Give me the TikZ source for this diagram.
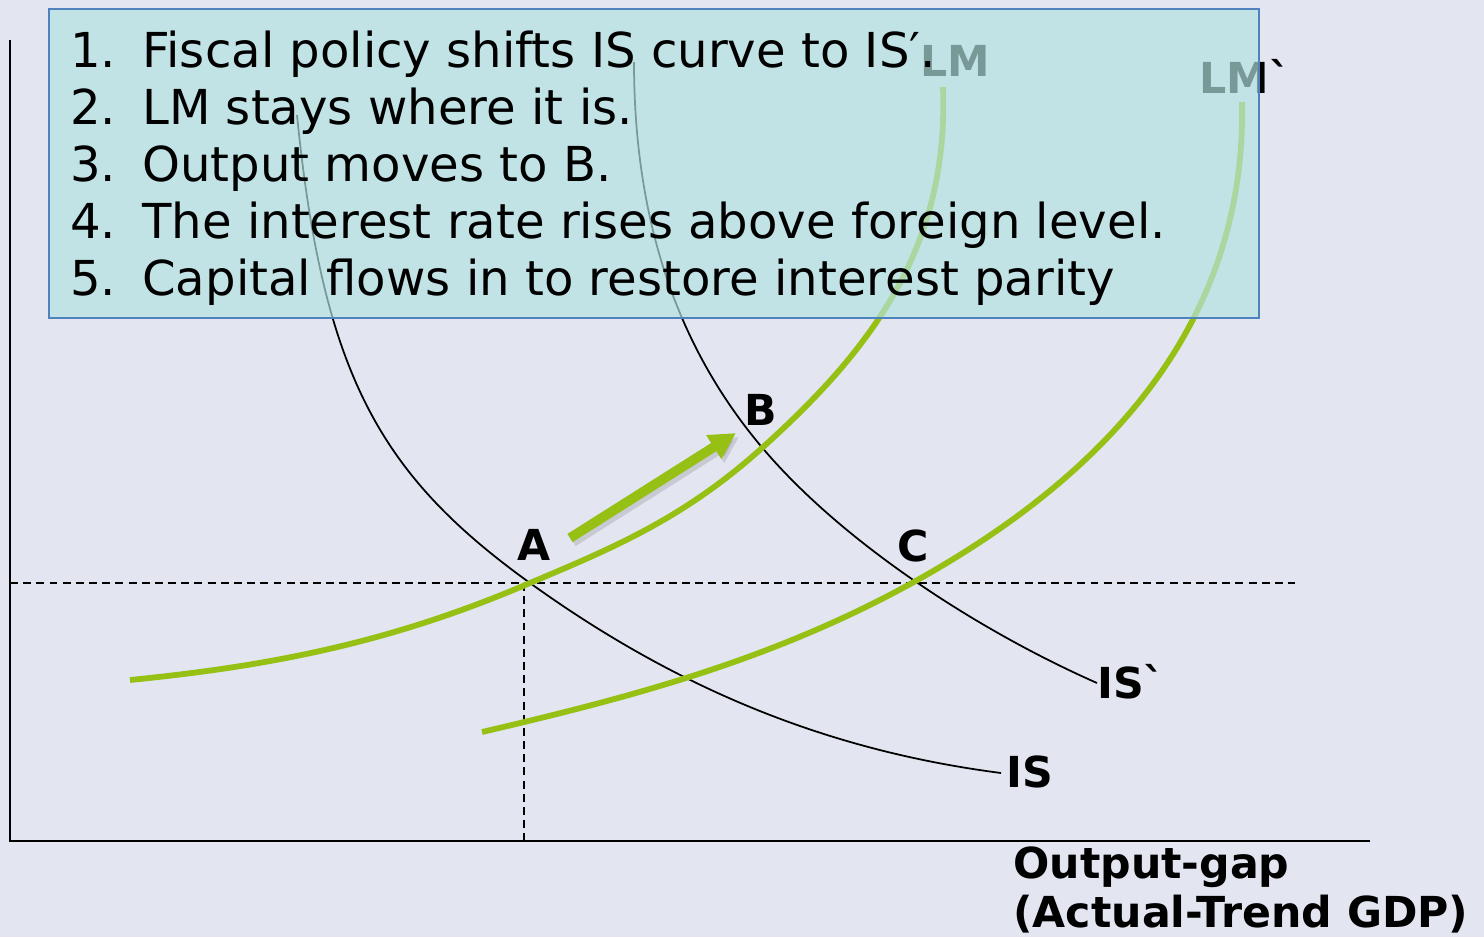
\documentclass[tikz,border=0pt]{standalone}
\usepackage{fontspec}
\setmainfont{DejaVu Sans}
\usetikzlibrary{arrows.meta}

\definecolor{slidebg}{RGB}{227,230,241}
\definecolor{lmgreen}{RGB}{150,192,20}
\definecolor{notefill}{RGB}{179,226,226}
\definecolor{noteline}{RGB}{79,129,189}

\tikzset{
  iscurve/.style={black, line width=1pt},
  lmcurve/.style={lmgreen, line width=3.3pt},
  guideline/.style={black, line width=1.1pt, dash pattern=on 4.5pt off 3pt},
  curvelabel/.style={font=\fontsize{24.3}{29}\selectfont\bfseries, inner sep=0pt},
  notetext/.style={font=\fontsize{27.4}{32}\selectfont, anchor=base west, inner sep=0pt},
  movearrow/.style={line width=5.5pt, -{Triangle[length=15pt, width=15pt]}},
}

\begin{document}
\begin{tikzpicture}[x=0.02cm, y=-0.02cm]
  \useasboundingbox[fill=slidebg] (0,0) rectangle (1484,937);

  % axes and guide lines at A
  \draw[line width=1.2pt] (10,40) -- (10,841) -- (1370,841);
  \draw[guideline] (10,583) -- (1295,583);
  \draw[guideline] (524,583) -- (524,841);

  % IS and IS'
  \draw[iscurve] (297,115) .. controls (323,375) and (380,475) .. (530,583)
                           .. controls (680,691) and (831,751) .. (1001,773);
  \draw[iscurve] (634,62) .. controls (634,242) and (690,361) .. (760,445)
                          .. controls (840,541) and (977,630) .. (1097,683);

  % LM and LM'
  \draw[lmcurve] (130,680) .. controls (270,666) and (390,643) .. (530,583)
                           .. controls (610,549) and (682,520) .. (762,448)
                           .. controls (872,349) and (949,247) .. (943,87);
  \draw[lmcurve] (482,732) .. controls (632,697) and (772,660) .. (912,583)
                           .. controls (1082,489) and (1247,342) .. (1242,102);
  \node[curvelabel] (lmlbl) at (955,61) {LM};
  \node[curvelabel] (lmshiftlbl) at (1245,76) {LM\textasciigrave};

  % move from A towards B
  \coordinate (movetail) at (570,538);
  \coordinate (movetip) at (736,433);
  \draw[movearrow, black, opacity=0.12]
    ([shift={(3,4)}]movetail) -- ([shift={(3,4)}]movetip);
  \draw[movearrow, lmgreen] (movetail) -- (movetip);

  % notes
  \draw[noteline, line width=1.1pt, fill=notefill, fill opacity=0.68]
    (49,9) rectangle (1259,318);
  \foreach \n/\txt [count=\i] in {%
      1/Fiscal policy shifts IS curve to IS′.,
      2/LM stays where it is.,
      3/Output moves to B.,
      4/The interest rate rises above foreign level.,
      5/Capital flows in to restore interest parity} {
    \node[notetext] (num\i) at (70,{67+57.2*(\i-1)}) {\n.};
    \node[notetext] (note\i) at (142,{67+57.2*(\i-1)}) {\txt};
  }

  % equilibrium points and curve names
  \node[curvelabel] (ptA) at (534,545) {A};
  \node[curvelabel] (ptB) at (761,410) {B};
  \node[curvelabel] (ptC) at (913,546) {C};
  \node[curvelabel, anchor=west] (islbl) at (1006,772) {IS};
  \node[curvelabel, anchor=west] (isshiftlbl) at (1097,682) {IS\textasciigrave};

  \node[curvelabel, anchor=base west] (xlbl1) at (1013,878) {Output-gap};
  \node[curvelabel, anchor=base west] (xlbl2) at (1013,927) {(Actual-Trend GDP)};
\end{tikzpicture}
\end{document}
